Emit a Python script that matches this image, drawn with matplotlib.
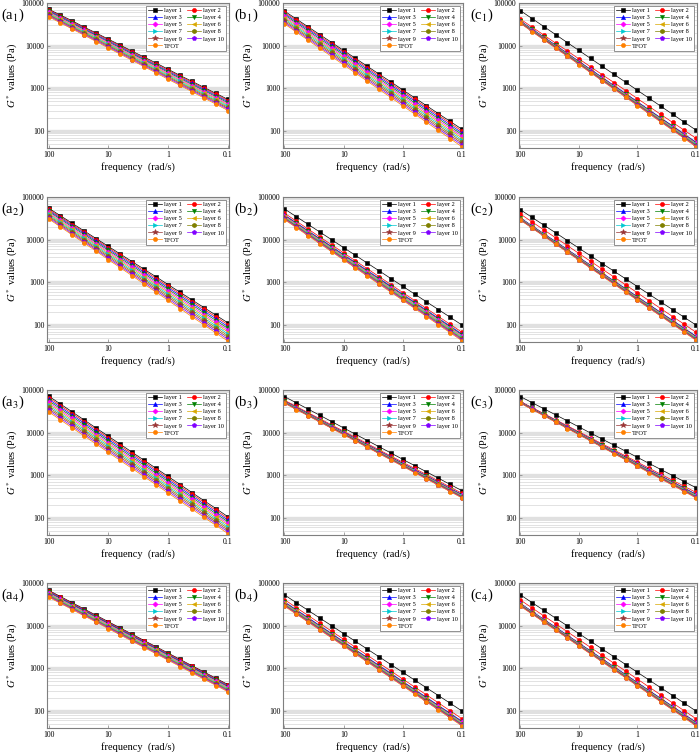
"""
G* vs frequency for every layer, 4x3 grid of log-log panels (a1..c4).
Output: out.png
"""
import matplotlib
matplotlib.use("Agg")
import matplotlib.pyplot as plt
from matplotlib.ticker import LogLocator, NullFormatter, NullLocator

plt.rcParams.update({
    "font.family": "serif",
    "font.serif": ["Liberation Serif", "DejaVu Serif"],
    "mathtext.fontset": "stix",
    "axes.edgecolor": "#7f7f7f",
    "axes.linewidth": 0.8,
})

FREQ = [100, 63.1, 39.8, 25.1, 15.8, 10, 6.31, 3.98, 2.51, 1.58,
        1, 0.631, 0.398, 0.251, 0.158, 0.1]
LABELS = ["layer 1", "layer 2", "layer 3", "layer 4", "layer 5", "layer 6",
          "layer 7", "layer 8", "layer 9", "layer 10", "TFOT"]
COLORS = ["#000000", "#ff0000", "#0000ff", "#008000", "#ff00ff", "#d9a800",
          "#00c8d0", "#808000", "#993333", "#8000ff", "#ff8000"]
MARKERS = ["s", "o", "^", "v", "D", "<", ">", "h", "*", "p", "o"]

# G* (Pa) per layer, one row per series, columns follow FREQ
A1 = [
    [72000, 52000, 38000, 27000, 19700, 14200, 10300, 7400, 5400, 3900, 2800, 2000, 1460, 1050, 760, 550],
    [69500, 50100, 36100, 26100, 18800, 13600, 9800, 7060, 5090, 3670, 2650, 1910, 1380, 995, 718, 518],
    [66700, 48100, 34600, 24900, 17900, 12900, 9330, 6710, 4840, 3480, 2510, 1810, 1300, 940, 676, 488],
    [64000, 46000, 33100, 23800, 17100, 12300, 8870, 6400, 4600, 3310, 2380, 1710, 1230, 887, 638, 459],
    [61400, 44200, 31700, 22800, 16400, 11800, 8450, 6080, 4370, 3140, 2250, 1620, 1160, 838, 601, 432],
    [58900, 42300, 30300, 21800, 15600, 11200, 8050, 5780, 4150, 2980, 2140, 1530, 1100, 791, 568, 407],
    [56500, 40500, 29000, 20800, 14900, 10700, 7670, 5500, 3940, 2820, 2030, 1450, 1040, 746, 536, 384],
    [54200, 38800, 27800, 19900, 14300, 10200, 7310, 5240, 3740, 2680, 1920, 1370, 984, 705, 505, 361],
    [52000, 37200, 26600, 19000, 13600, 9730, 6950, 4980, 3560, 2550, 1820, 1300, 931, 665, 476, 340],
    [49900, 35600, 25500, 18200, 13000, 9270, 6620, 4730, 3380, 2420, 1730, 1230, 881, 628, 449, 321],
    [47900, 34100, 24400, 17400, 12400, 8850, 6310, 4500, 3210, 2290, 1630, 1170, 832, 593, 424, 302],
]
B1 = [
    [64600, 42200, 27600, 18000, 11800, 7710, 5040, 3290, 2150, 1410, 918, 601, 393, 256, 168, 110],
    [60300, 39400, 25600, 16700, 10900, 7130, 4660, 3030, 1980, 1290, 843, 551, 359, 234, 153, 100],
    [56200, 36600, 23900, 15600, 10100, 6590, 4300, 2800, 1820, 1190, 774, 505, 329, 214, 139, 90.8],
    [52500, 34100, 22200, 14400, 9400, 6110, 3970, 2580, 1680, 1090, 710, 461, 301, 195, 127, 82.6],
    [49000, 31800, 20700, 13400, 8710, 5650, 3660, 2380, 1550, 1000, 652, 423, 275, 178, 116, 75.2],
    [45700, 29600, 19200, 12400, 8070, 5220, 3390, 2200, 1420, 923, 598, 387, 251, 163, 105, 68.4],
    [42700, 27600, 17900, 11600, 7480, 4840, 3130, 2030, 1310, 847, 548, 355, 230, 149, 96.2, 62.2],
    [39800, 25700, 16600, 10700, 6930, 4480, 2890, 1870, 1210, 780, 504, 325, 210, 136, 87.7, 56.6],
    [37200, 23900, 15500, 9950, 6430, 4140, 2670, 1720, 1110, 716, 462, 298, 192, 124, 80.0, 51.5],
    [34700, 22300, 14400, 9250, 5960, 3840, 2470, 1590, 1020, 659, 424, 273, 176, 113, 72.8, 46.9],
    [32400, 20800, 13400, 8590, 5520, 3550, 2280, 1470, 942, 605, 389, 250, 161, 103, 66.4, 42.7],
]
C1 = [
    [66100, 43000, 28000, 18200, 11800, 7710, 5010, 3260, 2120, 1380, 897, 585, 380, 247, 161, 105],
    [41700, 27200, 17700, 11500, 7520, 4900, 3190, 2080, 1360, 883, 575, 375, 244, 159, 104, 67.6],
    [38000, 24600, 15900, 10300, 6650, 4300, 2780, 1800, 1160, 752, 486, 314, 203, 132, 84.9, 55.0],
    [37400, 24200, 15600, 10100, 6510, 4210, 2720, 1750, 1130, 733, 473, 305, 198, 128, 82.4, 53.2],
    [36700, 23700, 15300, 9860, 6370, 4110, 2650, 1710, 1110, 713, 460, 297, 192, 124, 79.8, 51.6],
    [36100, 23300, 15000, 9680, 6240, 4030, 2590, 1670, 1080, 695, 449, 289, 187, 120, 77.4, 50.0],
    [35500, 22900, 14700, 9480, 6110, 3940, 2540, 1630, 1050, 678, 437, 281, 181, 117, 75.2, 48.4],
    [34900, 22400, 14400, 9290, 5970, 3850, 2480, 1590, 1030, 659, 425, 273, 176, 113, 72.8, 46.9],
    [34300, 22000, 14200, 9120, 5860, 3770, 2420, 1560, 1000, 644, 414, 266, 171, 110, 70.6, 45.5],
    [33700, 21600, 13900, 8930, 5740, 3680, 2370, 1520, 975, 627, 403, 259, 166, 107, 68.5, 44.1],
    [33100, 21200, 13600, 8750, 5610, 3610, 2310, 1480, 953, 611, 392, 252, 161, 104, 66.5, 42.7],
]
A2 = [
    [55000, 36400, 24000, 15900, 10500, 6970, 4610, 3050, 2020, 1340, 885, 585, 387, 256, 169, 112],
    [51900, 34200, 22600, 14900, 9840, 6490, 4290, 2820, 1870, 1230, 813, 536, 354, 233, 154, 102],
    [49000, 32200, 21200, 14000, 9180, 6040, 3980, 2620, 1720, 1130, 746, 491, 323, 212, 140, 92.0],
    [46200, 30300, 19900, 13100, 8570, 5620, 3690, 2420, 1590, 1040, 685, 450, 295, 194, 127, 83.4],
    [43700, 28600, 18700, 12200, 8020, 5240, 3430, 2240, 1470, 962, 630, 412, 270, 176, 115, 75.5],
    [41200, 26900, 17500, 11500, 7480, 4880, 3180, 2080, 1360, 885, 578, 377, 246, 161, 105, 68.4],
    [38900, 25300, 16500, 10700, 6980, 4540, 2960, 1920, 1250, 815, 531, 345, 225, 146, 95.3, 61.9],
    [36700, 23800, 15500, 10000, 6520, 4230, 2750, 1780, 1160, 752, 488, 316, 205, 133, 86.5, 56.1],
    [34700, 22400, 14500, 9400, 6080, 3940, 2550, 1650, 1070, 692, 448, 290, 188, 121, 78.5, 50.8],
    [32700, 21100, 13600, 8810, 5680, 3660, 2370, 1530, 986, 637, 411, 265, 171, 110, 71.3, 46.0],
    [30900, 19900, 12800, 8240, 5310, 3410, 2200, 1420, 910, 586, 378, 243, 156, 101, 64.7, 41.7],
]
B2 = [
    [52500, 34600, 22800, 15000, 9890, 6500, 4290, 2820, 1860, 1220, 807, 531, 350, 231, 152, 100],
    [41700, 27200, 17700, 11500, 7520, 4900, 3190, 2080, 1360, 883, 575, 375, 244, 159, 104, 67.6],
    [38000, 24800, 16100, 10500, 6850, 4470, 2910, 1900, 1240, 805, 525, 342, 223, 145, 94.6, 61.7],
    [36800, 24000, 15600, 10200, 6620, 4310, 2810, 1820, 1190, 773, 504, 328, 213, 139, 90.4, 58.9],
    [35700, 23200, 15100, 9820, 6380, 4150, 2700, 1760, 1140, 743, 483, 314, 204, 133, 86.5, 56.2],
    [34600, 22400, 14600, 9480, 6170, 4000, 2600, 1690, 1100, 713, 463, 301, 196, 127, 82.6, 53.7],
    [33500, 21700, 14100, 9160, 5940, 3860, 2510, 1630, 1060, 685, 445, 289, 188, 122, 79.1, 51.3],
    [32400, 21000, 13600, 8850, 5740, 3720, 2420, 1570, 1020, 659, 428, 277, 180, 117, 75.5, 49.0],
    [31500, 20400, 13200, 8550, 5550, 3590, 2330, 1510, 977, 632, 410, 265, 172, 111, 72.3, 46.8],
    [30500, 19700, 12800, 8260, 5350, 3460, 2240, 1450, 938, 608, 394, 255, 165, 107, 69.0, 44.7],
    [29500, 19100, 12300, 7980, 5160, 3330, 2160, 1400, 902, 583, 378, 244, 158, 102, 65.9, 42.7],
]
C2 = [
    [50100, 33100, 21900, 14500, 9550, 6310, 4170, 2750, 1820, 1200, 794, 525, 347, 229, 151, 100],
    [39800, 26000, 17000, 11100, 7260, 4750, 3100, 2030, 1330, 867, 566, 371, 242, 158, 104, 67.6],
    [32400, 21100, 13800, 9040, 5900, 3860, 2520, 1650, 1080, 705, 460, 301, 197, 129, 84.1, 55.0],
    [31800, 20800, 13600, 8870, 5790, 3780, 2470, 1610, 1050, 689, 450, 294, 192, 125, 81.8, 53.5],
    [31300, 20500, 13300, 8710, 5680, 3710, 2420, 1580, 1030, 671, 439, 286, 187, 122, 79.4, 51.9],
    [30800, 20100, 13100, 8550, 5570, 3630, 2370, 1550, 1010, 656, 428, 279, 182, 119, 77.3, 50.5],
    [30400, 19800, 12900, 8390, 5470, 3560, 2320, 1510, 984, 641, 418, 272, 177, 115, 75.2, 49.0],
    [29900, 19500, 12600, 8240, 5360, 3490, 2270, 1480, 962, 627, 407, 265, 173, 112, 73.1, 47.6],
    [29400, 19100, 12400, 8090, 5260, 3420, 2220, 1450, 942, 612, 398, 259, 168, 109, 71.1, 46.2],
    [29000, 18800, 12200, 7940, 5160, 3350, 2180, 1420, 920, 597, 388, 252, 164, 106, 69.2, 45.0],
    [28500, 18500, 12000, 7800, 5060, 3290, 2130, 1380, 899, 583, 378, 246, 160, 104, 67.3, 43.7],
]
A3 = [
    [72400, 46900, 30400, 19700, 12700, 8260, 5350, 3460, 2240, 1450, 940, 610, 394, 255, 166, 107],
    [66500, 43100, 27900, 18100, 11700, 7570, 4900, 3170, 2050, 1330, 861, 557, 361, 233, 151, 97.9],
    [61100, 39500, 25600, 16600, 10700, 6930, 4490, 2900, 1880, 1220, 787, 509, 330, 213, 138, 89.3],
    [56100, 36300, 23500, 15200, 9820, 6350, 4110, 2660, 1720, 1110, 719, 466, 301, 195, 126, 81.6],
    [51500, 33300, 21500, 13900, 9020, 5820, 3770, 2440, 1570, 1020, 659, 426, 275, 178, 115, 74.5],
    [47300, 30600, 19800, 12800, 8260, 5350, 3450, 2230, 1440, 933, 603, 390, 252, 163, 105, 68.1],
    [43400, 28100, 18200, 11700, 7570, 4900, 3160, 2040, 1320, 853, 551, 356, 230, 149, 96.2, 62.1],
    [39900, 25800, 16600, 10800, 6950, 4490, 2900, 1870, 1210, 782, 505, 326, 210, 136, 87.7, 56.8],
    [36600, 23700, 15300, 9860, 6370, 4110, 2650, 1710, 1110, 714, 461, 298, 192, 124, 80.2, 51.8],
    [33700, 21700, 14000, 9040, 5830, 3770, 2430, 1570, 1010, 653, 422, 272, 176, 114, 73.1, 47.3],
    [30900, 19900, 12900, 8300, 5360, 3450, 2230, 1440, 927, 598, 386, 249, 161, 104, 66.8, 43.2],
]
B3 = [
    [70000, 49900, 35600, 25400, 18100, 12900, 9180, 6550, 4670, 3330, 2370, 1690, 1210, 859, 612, 437],
    [57500, 41200, 29400, 21100, 15100, 10800, 7730, 5530, 3950, 2830, 2030, 1450, 1040, 743, 531, 380],
    [55000, 39300, 28100, 20000, 14300, 10200, 7310, 5220, 3730, 2670, 1910, 1360, 973, 695, 497, 355],
    [54200, 38700, 27600, 19700, 14100, 10100, 7180, 5130, 3660, 2610, 1870, 1330, 953, 679, 485, 347],
    [53500, 38100, 27200, 19400, 13900, 9890, 7060, 5040, 3600, 2560, 1830, 1310, 933, 665, 475, 339],
    [52600, 37600, 26800, 19100, 13600, 9700, 6930, 4940, 3520, 2510, 1790, 1280, 912, 650, 463, 331],
    [51900, 37000, 26400, 18800, 13400, 9550, 6810, 4850, 3460, 2470, 1760, 1250, 893, 637, 454, 324],
    [51200, 36400, 25900, 18500, 13200, 9400, 6680, 4760, 3400, 2420, 1720, 1230, 875, 624, 444, 316],
    [50400, 35900, 25500, 18200, 12900, 9230, 6580, 4680, 3330, 2370, 1690, 1200, 857, 610, 435, 309],
    [49700, 35400, 25200, 17900, 12700, 9080, 6460, 4590, 3270, 2330, 1660, 1180, 838, 597, 425, 302],
    [49000, 34800, 24800, 17600, 12500, 8910, 6340, 4510, 3210, 2280, 1620, 1150, 820, 583, 415, 295],
]
C3 = [
    [70000, 50400, 36300, 26200, 18900, 13600, 9790, 7060, 5080, 3660, 2640, 1900, 1370, 988, 711, 513],
    [53700, 38700, 27900, 20100, 14500, 10500, 7550, 5450, 3930, 2830, 2040, 1470, 1060, 766, 552, 398],
    [52500, 37700, 27000, 19400, 13900, 10000, 7180, 5150, 3700, 2650, 1910, 1370, 982, 705, 506, 363],
    [52000, 37300, 26700, 19200, 13700, 9860, 7060, 5070, 3630, 2610, 1870, 1340, 960, 689, 493, 354],
    [51600, 37000, 26500, 19000, 13600, 9730, 6970, 4990, 3570, 2560, 1830, 1310, 940, 673, 482, 345],
    [51200, 36600, 26200, 18700, 13400, 9570, 6850, 4900, 3510, 2510, 1790, 1280, 918, 656, 470, 336],
    [50700, 36200, 25900, 18500, 13200, 9440, 6750, 4820, 3440, 2460, 1760, 1260, 897, 641, 458, 327],
    [50200, 35900, 25600, 18300, 13000, 9310, 6640, 4740, 3380, 2420, 1720, 1230, 877, 627, 447, 319],
    [49900, 35600, 25400, 18100, 12900, 9180, 6550, 4670, 3330, 2370, 1690, 1210, 859, 612, 437, 311],
    [49400, 35200, 25100, 17800, 12700, 9040, 6440, 4580, 3270, 2320, 1660, 1180, 839, 597, 426, 303],
    [49000, 34800, 24800, 17600, 12500, 8910, 6340, 4510, 3210, 2280, 1620, 1150, 820, 583, 415, 295],
]
A4 = [
    [67600, 48200, 34300, 24400, 17400, 12400, 8830, 6300, 4480, 3190, 2280, 1620, 1150, 822, 585, 417],
    [65200, 46500, 33000, 23500, 16700, 11900, 8510, 6050, 4320, 3070, 2190, 1560, 1110, 791, 562, 401],
    [62800, 44800, 31800, 22700, 16100, 11500, 8180, 5830, 4150, 2960, 2100, 1500, 1070, 760, 542, 385],
    [60500, 43100, 30700, 21800, 15600, 11100, 7890, 5610, 4000, 2840, 2030, 1440, 1030, 731, 521, 371],
    [58300, 41500, 29600, 21000, 15000, 10700, 7590, 5410, 3850, 2740, 1950, 1390, 989, 703, 501, 356],
    [56200, 40000, 28500, 20300, 14400, 10300, 7310, 5200, 3710, 2640, 1880, 1340, 951, 676, 482, 343],
    [54200, 38500, 27500, 19500, 13900, 9890, 7050, 5010, 3560, 2540, 1810, 1290, 914, 650, 463, 330],
    [52200, 37200, 26400, 18800, 13400, 9530, 6780, 4820, 3440, 2440, 1740, 1240, 879, 627, 446, 317],
    [50400, 35800, 25500, 18100, 12900, 9180, 6530, 4650, 3300, 2350, 1670, 1190, 847, 603, 429, 305],
    [48500, 34500, 24500, 17500, 12400, 8830, 6280, 4470, 3180, 2260, 1610, 1150, 815, 579, 412, 293],
    [46800, 33300, 23700, 16800, 12000, 8510, 6050, 4310, 3060, 2180, 1550, 1100, 783, 557, 396, 282],
]
B4 = [
    [52500, 34600, 22800, 15000, 9890, 6500, 4290, 2820, 1860, 1220, 807, 531, 350, 231, 152, 100],
    [40700, 26500, 17300, 11300, 7350, 4790, 3120, 2030, 1320, 863, 562, 366, 239, 156, 101, 66.1],
    [36300, 23600, 15400, 10000, 6500, 4230, 2750, 1790, 1170, 759, 493, 321, 209, 136, 88.5, 57.5],
    [35200, 22900, 14900, 9700, 6310, 4100, 2670, 1740, 1130, 736, 479, 311, 202, 132, 85.7, 55.7],
    [34200, 22200, 14500, 9400, 6120, 3980, 2590, 1680, 1100, 713, 463, 301, 196, 128, 83.0, 54.0],
    [33200, 21600, 14000, 9120, 5930, 3860, 2510, 1630, 1060, 690, 450, 292, 190, 124, 80.4, 52.4],
    [32200, 20900, 13600, 8850, 5750, 3740, 2440, 1580, 1030, 670, 436, 283, 184, 120, 78.0, 50.7],
    [31200, 20300, 13200, 8590, 5580, 3630, 2360, 1530, 998, 649, 422, 274, 178, 116, 75.5, 49.1],
    [30300, 19700, 12800, 8330, 5420, 3520, 2290, 1490, 968, 630, 409, 266, 173, 112, 73.3, 47.6],
    [29400, 19100, 12400, 8070, 5250, 3410, 2220, 1440, 938, 610, 396, 258, 167, 109, 71.0, 46.1],
    [28500, 18500, 12100, 7830, 5090, 3310, 2150, 1400, 910, 592, 385, 250, 163, 106, 68.7, 44.7],
]
C4 = [
    [52500, 34600, 22800, 15000, 9890, 6500, 4290, 2820, 1860, 1220, 807, 531, 350, 231, 152, 100],
    [39800, 26000, 16900, 11100, 7230, 4710, 3080, 2010, 1310, 855, 558, 364, 238, 155, 101, 66.1],
    [33100, 21600, 14100, 9200, 6010, 3920, 2560, 1670, 1090, 711, 465, 303, 198, 129, 84.1, 55.0],
    [32500, 21200, 13800, 9020, 5890, 3840, 2510, 1630, 1060, 695, 453, 296, 193, 126, 82.0, 53.6],
    [31900, 20800, 13600, 8830, 5770, 3760, 2450, 1600, 1040, 679, 443, 288, 188, 123, 80.0, 52.2],
    [31300, 20400, 13300, 8670, 5650, 3680, 2400, 1560, 1020, 664, 433, 282, 184, 120, 78.0, 50.8],
    [30700, 20000, 13000, 8490, 5530, 3610, 2350, 1530, 995, 649, 423, 275, 179, 117, 76.0, 49.5],
    [30200, 19600, 12800, 8320, 5420, 3530, 2300, 1500, 973, 634, 413, 269, 175, 114, 74.1, 48.3],
    [29600, 19300, 12500, 8170, 5310, 3450, 2250, 1460, 953, 619, 404, 262, 171, 111, 72.3, 47.1],
    [29000, 18900, 12300, 8000, 5200, 3380, 2200, 1430, 931, 605, 394, 256, 166, 108, 70.5, 45.8],
    [28500, 18500, 12100, 7830, 5090, 3310, 2150, 1400, 910, 592, 385, 250, 163, 106, 68.7, 44.7],
]

PANELS = [[A1, B1, C1], [A2, B2, C2], [A3, B3, C3], [A4, B4, C4]]

# axes placement in pixels of the 700x752 canvas
COL_X = [(47, 182), (283, 180), (519, 178)]
ROW_TOP = [3, 197, 390, 583]
AX_H = 145
TAG_X = [1, 234, 470]
W, H = 700, 752


def draw_panel(ax, series):
    for vals, lab, col, mk in zip(series, LABELS, COLORS, MARKERS):
        ms = {"*": 4.4, "D": 2.6, "h": 3.3, "p": 3.3}.get(mk, 3.0)
        ax.plot(FREQ, vals, color=col, lw=0.5, marker=mk, ms=ms,
                mec=col, mew=0.4, label=lab)
    ax.set_xscale("log")
    ax.set_yscale("log")
    ax.set_xlim(106, 0.096)
    ax.set_ylim(40, 100000)
    ax.set_xticks([100, 10, 1, 0.1], ["100", "10", "1", "0.1"])
    ax.xaxis.set_minor_locator(NullLocator())
    ax.set_yticks([100, 1000, 10000, 100000], ["100", "1000", "10000", "100000"])
    ax.yaxis.set_minor_locator(LogLocator(base=10, subs=range(2, 10)))
    ax.yaxis.set_minor_formatter(NullFormatter())
    ax.tick_params(which="both", direction="in", labelsize=5.6, length=2,
                   width=0.5, color="#7f7f7f", pad=2)
    ax.tick_params(which="minor", length=0)
    ax.grid(True, axis="y", which="major", color="#e0e0e0", lw=2.4)
    ax.grid(True, axis="y", which="minor", color="#d6d6d6", lw=0.5)
    ax.set_axisbelow(True)
    ax.set_xlabel("frequency  (rad/s)", fontsize=7.5, labelpad=2)
    ax.set_ylabel("$G^*$ values (Pa)", fontsize=7.5, labelpad=1.5)
    h, l = ax.get_legend_handles_labels()
    order = [0, 2, 4, 6, 8, 10, 1, 3, 5, 7, 9]
    leg = ax.legend([h[i] for i in order], [l[i] for i in order], ncol=2,
                    loc="upper right", fontsize=4.6, frameon=True,
                    fancybox=False, edgecolor="#7f7f7f", framealpha=1,
                    handlelength=2.2, handletextpad=0.3, columnspacing=0.8,
                    labelspacing=0.25, borderpad=0.35, borderaxespad=0.4)
    leg.get_frame().set_linewidth(0.6)


def main():
    fig = plt.figure(figsize=(7, 7.52), dpi=100)
    for r, row in enumerate(PANELS):
        for c, series in enumerate(row):
            x0, w = COL_X[c]
            top = ROW_TOP[r]
            ax = fig.add_axes([x0 / W, 1 - (top + AX_H) / H, w / W, AX_H / H])
            draw_panel(ax, series)
            fig.text(TAG_X[c] / W, 1 - (top + 12) / H,
                     f"({'abc'[c]}$_{{{r + 1}}}$)", fontsize=10.5, va="center")
    fig.savefig("out.png", dpi=100)
    plt.close(fig)


if __name__ == "__main__":
    main()
